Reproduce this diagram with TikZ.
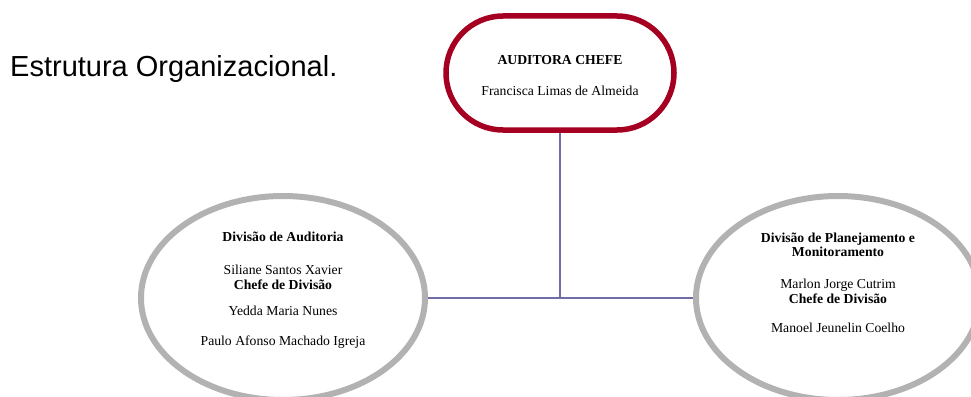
\documentclass[tikz,border=0pt]{standalone}
\usepackage{fontspec}
\setmainfont{Liberation Serif}
\newfontfamily\titlefont{Liberation Sans}
\usetikzlibrary{shapes.geometric}

\definecolor{chefered}{RGB}{165,0,33}
\definecolor{divgray}{RGB}{178,178,178}
\definecolor{linkline}{RGB}{112,110,168}

\tikzset{
  chefebox/.style={draw=chefered, line width=5.5pt, rounded corners=57pt,
    minimum width=228pt, minimum height=114pt, inner sep=0pt},
  divbox/.style={ellipse, draw=divgray, line width=6pt,
    minimum width=284pt, minimum height=204pt, inner sep=0pt},
  % the base anchor of a multi-line node sits on its last line
  bodytext/.style={align=center, inner sep=0pt, anchor=base,
    font=\fontsize{13.7}{14.5}\selectfont},
  link/.style={draw=linkline, line width=2pt}
}

\begin{document}
\begin{tikzpicture}[x=1pt, y=-1pt]
  \useasboundingbox (0,0) rectangle (971,396);
  \clip (0,0) rectangle (971,396);

  % heading
  \node[anchor=base west, inner sep=0pt, font=\titlefont\fontsize{29}{34}\selectfont]
    (heading) at (10,77) {Estrutura Organizacional.};

  % boxes
  \node[chefebox] (chefe) at (560,73) {};
  \node[divbox] (aud) at (283,298) {};
  \node[divbox] (plan) at (838,298) {};

  % connectors
  \draw[link] (aud.east) -- (plan.west);
  \draw[link] (chefe.south) -- (chefe.south |- aud.east);

  % texts
  \node[bodytext] (chefetext) at (560,95)
    {\textbf{AUDITORA CHEFE}\\[16pt]Francisca Limas de Almeida};
  \node[bodytext] (audtext) at (283,345)
    {\textbf{Divisão de Auditoria}\\[18.5pt]
     Siliane Santos Xavier\\
     \textbf{Chefe de Divisão}\\[11.5pt]
     Yedda Maria Nunes\\[15.5pt]
     Paulo Afonso Machado Igreja};
  \node[bodytext] (plantext) at (838,332)
    {\textbf{Divisão de Planejamento e}\\
     \textbf{Monitoramento}\\[17.5pt]
     Marlon Jorge Cutrim\\
     \textbf{Chefe de Divisão}\\[14.5pt]
     Manoel Jeunelin Coelho};
\end{tikzpicture}
\end{document}
